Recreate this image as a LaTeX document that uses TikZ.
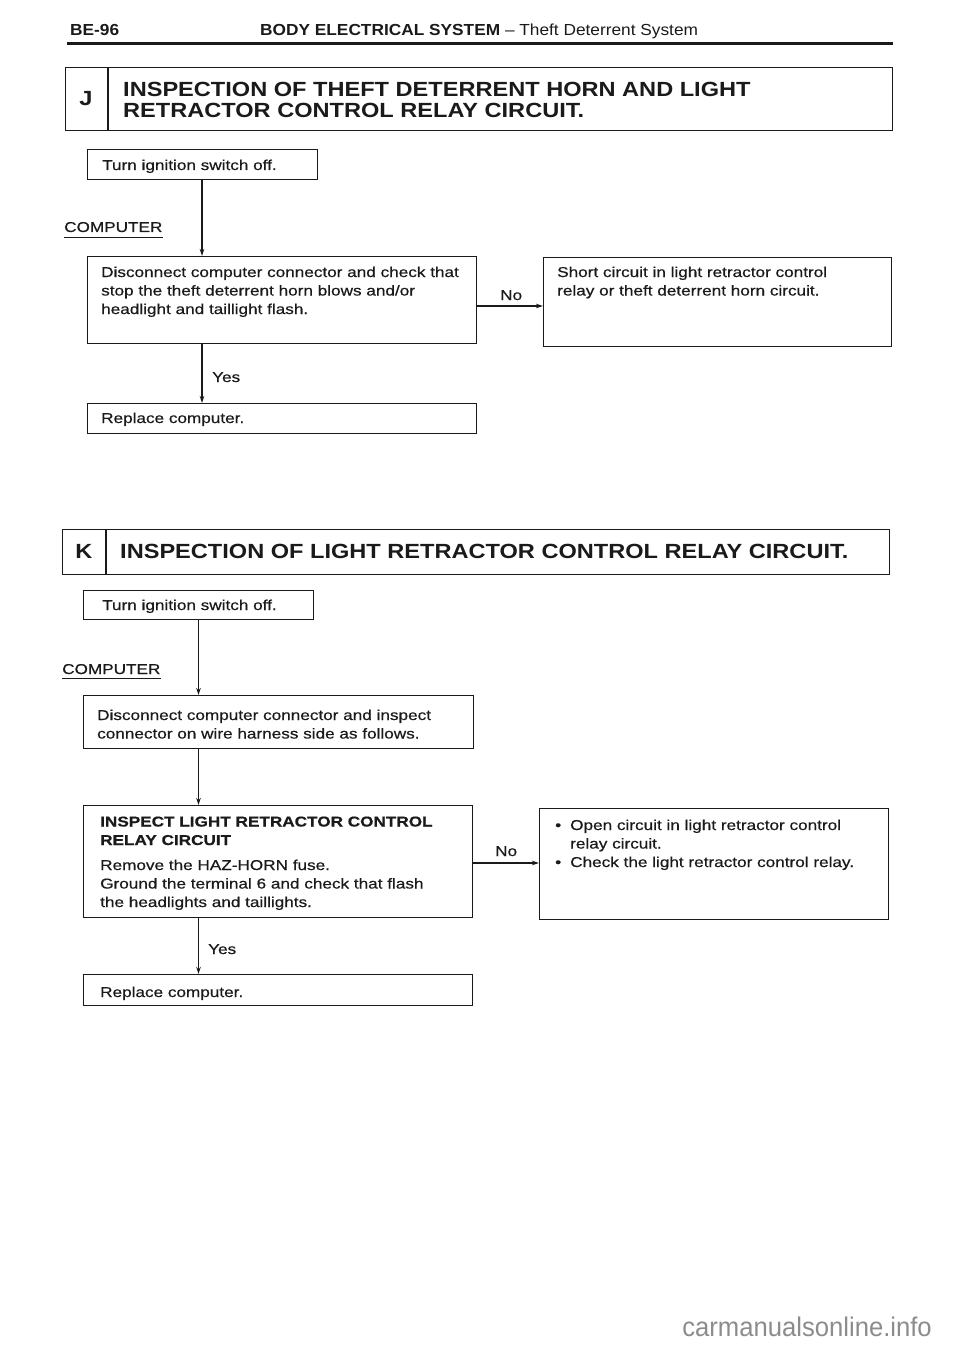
\documentclass[tikz,border=0pt]{standalone}
\usepackage{fontspec}
\setmainfont{Liberation Sans}
\newfontfamily\bodyfont[FakeStretch=1.2,FakeBold=0.5]{Liberation Sans}
\newfontfamily\titlefont[FakeStretch=1.15]{Liberation Sans}
\newfontfamily\headfont[FakeStretch=1.08]{Liberation Sans}
\newfontfamily\markfont[FakeStretch=0.95]{Liberation Sans}
\usetikzlibrary{arrows.meta}
\newcommand{\mylines}[1]{\begin{tabular}[t]{@{}l@{}}#1\end{tabular}}
\definecolor{ink}{HTML}{1A1A1A}
\definecolor{wmgray}{HTML}{8C8C8C}
\tikzset{
  frame/.style={draw=ink, line width=1.2pt},
  box/.style={frame, inner sep=0pt, anchor=north west},
  txt/.style={anchor=base west, inner sep=0pt, text=ink, font=\bodyfont\fontsize{14.3}{18.5}\selectfont},
  titletxt/.style={anchor=base west, inner sep=0pt, text=ink, font=\titlefont\bfseries\fontsize{20.5}{20}\selectfont},
  headtxt/.style={anchor=base west, inner sep=0pt, text=ink, font=\headfont\fontsize{16}{18}\selectfont},
  arr/.style={draw=ink, line width=1.1pt, -{Stealth[length=7pt,width=4.5pt]}},
}
\begin{document}
\begin{tikzpicture}[x=1pt,y=-1pt]
\useasboundingbox (0,0) rectangle (960,1356);
\fill[white] (0,0) rectangle (960,1356);

% page header
\node[headtxt] (pg) at (70,36) {\bfseries BE-96};
\node[headtxt] (ph) at (260,36) {\bfseries BODY ELECTRICAL SYSTEM\mdseries\ \textendash\ Theft Deterrent System};
\coordinate (rl) at (67,44);
\coordinate (rr) at (893,44);
\draw[ink, line width=3pt] (rl) -- (rr);

% ===== Section J =====
\node[box, minimum width=827pt, minimum height=63pt] (jh) at (65,67) {};
\coordinate (jdx) at (108,0);
\draw[frame] (jh.north -| jdx) -- (jh.south -| jdx);
\node[titletxt, anchor=base] (jl) at (86,106) {J};
\node[titletxt] (jt) at (123,97) {\mylines{INSPECTION OF THEFT DETERRENT HORN AND LIGHT\\RETRACTOR CONTROL RELAY CIRCUIT.}};

\node[box, minimum width=230pt, minimum height=30pt] (j1) at (87,149) {};
\node[txt] (j1t) at (102,170) {Turn ignition switch off.};

\node[txt] (jc) at (64,232) {COMPUTER};
\draw[ink, line width=0.9pt] ([yshift=-5pt]jc.base west) -- ([yshift=-5pt]jc.base east);

\node[box, minimum width=389pt, minimum height=87pt] (j2) at (87,256) {};
\node[txt] (j2t) at (101,277) {\mylines{Disconnect computer connector and check that\\stop the theft deterrent horn blows and/or\\headlight and taillight flash.}};

\node[box, minimum width=348pt, minimum height=89pt] (j4) at (543,257) {};
\node[txt] (j4t) at (557,277) {\mylines{Short circuit in light retractor control\\relay or theft deterrent horn circuit.}};

\node[box, minimum width=389pt, minimum height=30pt] (j3) at (87,403) {};
\node[txt] (j3t) at (101,423) {Replace computer.};

\coordinate (jx) at (202,0);
\coordinate (jno) at (0,306);
\draw[arr] (j1.south -| jx) -- (j2.north -| jx);
\draw[arr] (j2.south -| jx) -- (j3.north -| jx);
\draw[arr] (j2.east |- jno) -- (j4.west |- jno);
\node[txt] (jyes) at (212,382) {Yes};
\node[txt] (jnolab) at (500,300) {No};

% ===== Section K =====
\node[box, minimum width=827pt, minimum height=45pt] (kh) at (62,529) {};
\coordinate (kdx) at (106,0);
\draw[frame] (kh.north -| kdx) -- (kh.south -| kdx);
\node[titletxt, anchor=base] (kl) at (84,558) {K};
\node[titletxt] (kt) at (120,558) {INSPECTION OF LIGHT RETRACTOR CONTROL RELAY CIRCUIT.};

\node[box, minimum width=230pt, minimum height=29pt] (k1) at (83,590) {};
\node[txt] (k1t) at (102,610) {Turn ignition switch off.};

\node[txt] (kc) at (62,674) {COMPUTER};
\draw[ink, line width=0.9pt] ([yshift=-4pt]kc.base west) -- ([yshift=-4pt]kc.base east);

\node[box, minimum width=390pt, minimum height=53pt] (k2) at (83,695) {};
\node[txt] (k2t) at (97,720) {\mylines{Disconnect computer connector and inspect\\connector on wire harness side as follows.}};

\node[box, minimum width=389pt, minimum height=112pt] (k3) at (83,805) {};
\node[txt] (k3t) at (100,826.5) {\mylines{\bfseries INSPECT LIGHT RETRACTOR CONTROL\\\bfseries RELAY CIRCUIT\\[6.5pt]Remove the HAZ-HORN fuse.\\Ground the terminal 6 and check that flash\\the headlights and taillights.}};

\node[box, minimum width=349pt, minimum height=111pt] (k4) at (539,808) {};
\node[txt] (k4t) at (555,830) {\begin{tabular}[t]{@{}l@{\hspace{9pt}}l@{}}\textbullet & Open circuit in light retractor control\\ & relay circuit.\\ \textbullet & Check the light retractor control relay.\end{tabular}};

\node[box, minimum width=389pt, minimum height=31pt] (k5) at (83,974) {};
\node[txt] (k5t) at (100,997) {Replace computer.};

\coordinate (kx) at (198.5,0);
\coordinate (kno) at (0,863);
\draw[arr] (k1.south -| kx) -- (k2.north -| kx);
\draw[arr] (k2.south -| kx) -- (k3.north -| kx);
\draw[arr] (k3.south -| kx) -- (k5.north -| kx);
\draw[arr] (k3.east |- kno) -- (k4.west |- kno);
\node[txt] (kyes) at (208,954) {Yes};
\node[txt] (knolab) at (495,856) {No};

% watermark
\node[anchor=base east, inner sep=0pt, text=wmgray, font=\markfont\fontsize{27}{27}\selectfont] (wm) at (932,1336) {carmanualsonline.info};
\end{tikzpicture}
\end{document}
